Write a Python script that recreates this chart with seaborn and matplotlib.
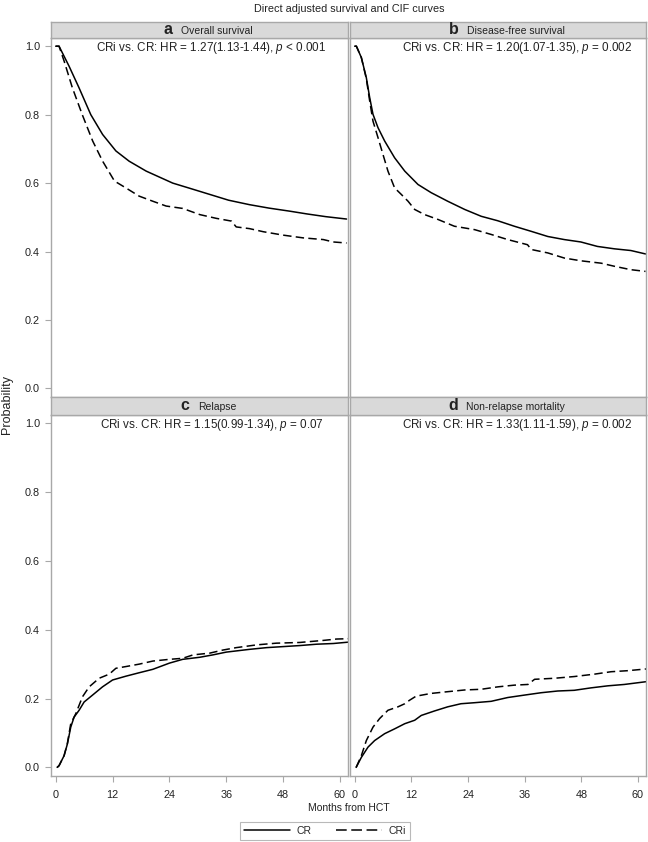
import numpy as np
import pandas as pd
import matplotlib
matplotlib.use("Agg")
import matplotlib.pyplot as plt
import seaborn as sns
from matplotlib.lines import Line2D
from matplotlib.offsetbox import TextArea, HPacker, AnchoredOffsetbox

# ---------------- data ----------------
groups = ["CR", "CRi"]

# a  Overall survival
os_cr_t = [0, 0.7, 2.8, 4.9, 7.4, 9.9, 12.7, 15.5, 19.1, 24.7, 28.5, 32.5, 36.5, 40.9, 45, 49.4, 53, 57, 61.4]
os_cr_p = [1.0, 1.0, 0.942, 0.879, 0.80, 0.742, 0.694, 0.664, 0.635, 0.600, 0.584, 0.567, 0.550, 0.537, 0.527, 0.518, 0.510, 0.502, 0.495]
os_cri_t = [0, 0.7, 1.76, 3.5, 5.6, 7.8, 9.9, 12.4, 14.8, 17.6, 20.5, 23.3, 26.8, 30.4, 33.9, 37.1, 38.1, 40.9, 43.8, 48.0, 52.2, 56.5, 58.6, 61.4]
os_cri_p = [1.0, 1.0, 0.957, 0.879, 0.80, 0.723, 0.664, 0.606, 0.586, 0.562, 0.547, 0.533, 0.526, 0.508, 0.497, 0.489, 0.472, 0.467, 0.458, 0.448, 0.440, 0.435, 0.428, 0.425]

# b  Disease-free survival
dfs_cr_t = [0, 0.35, 1.4, 2.46, 3.17, 3.87, 4.93, 6.34, 8.45, 10.6, 13.4, 16.2, 19.7, 23.3, 26.8, 30.3, 33.8, 37.4, 40.9, 44.4, 47.9, 51.4, 55.0, 58.5, 61.6]
dfs_cr_p = [1.0, 1.0, 0.967, 0.908, 0.85, 0.801, 0.762, 0.723, 0.674, 0.635, 0.596, 0.572, 0.547, 0.523, 0.503, 0.490, 0.474, 0.459, 0.444, 0.435, 0.428, 0.415, 0.408, 0.403, 0.393]
dfs_cri_t = [0, 0.35, 1.4, 2.46, 3.17, 3.87, 4.93, 5.98, 7.04, 8.45, 9.86, 11.3, 12.7, 14.8, 17.6, 21.1, 25.4, 28.9, 32.4, 36.6, 37.4, 40.9, 44.4, 47.9, 52.2, 55.0, 58.5, 61.6]
dfs_cri_p = [1.0, 1.0, 0.967, 0.905, 0.84, 0.781, 0.733, 0.684, 0.635, 0.586, 0.567, 0.547, 0.523, 0.508, 0.494, 0.474, 0.464, 0.450, 0.435, 0.420, 0.406, 0.396, 0.381, 0.373, 0.366, 0.357, 0.347, 0.342]

# c  Relapse
rel_cr_t = [0.3, 0.7, 1.76, 2.46, 3.17, 3.87, 4.93, 5.99, 7.76, 9.87, 12.0, 14.8, 17.6, 20.5, 24.0, 26.8, 30.4, 33.2, 36.0, 40.9, 44.5, 48.0, 51.5, 55.1, 58.6, 61.8]
rel_cr_p = [0.0, 0.005, 0.034, 0.068, 0.117, 0.146, 0.166, 0.190, 0.210, 0.234, 0.254, 0.265, 0.275, 0.285, 0.303, 0.314, 0.320, 0.327, 0.335, 0.343, 0.348, 0.351, 0.354, 0.358, 0.360, 0.364]
rel_cri_t = [0.3, 0.7, 1.76, 2.46, 3.17, 4.23, 5.64, 7.05, 9.16, 11.3, 12.7, 14.8, 17.6, 20.5, 24.0, 26.8, 29.0, 32.5, 35.3, 38.1, 42.4, 46.6, 51.5, 56.5, 59.3, 61.8]
rel_cri_p = [0.0, 0.005, 0.034, 0.070, 0.127, 0.156, 0.205, 0.234, 0.259, 0.271, 0.288, 0.293, 0.300, 0.309, 0.314, 0.317, 0.327, 0.332, 0.341, 0.348, 0.356, 0.361, 0.363, 0.369, 0.373, 0.374]

# d  Non-relapse mortality
nrm_cr_t = [0.3, 1.4, 2.82, 4.22, 6.34, 8.45, 10.6, 12.7, 14.1, 16.9, 19.7, 22.5, 25.4, 28.9, 32.4, 35.9, 39.5, 43.0, 46.5, 50.0, 53.6, 57.1, 61.7]
nrm_cr_p = [0.0, 0.029, 0.059, 0.078, 0.098, 0.112, 0.127, 0.137, 0.151, 0.164, 0.176, 0.185, 0.188, 0.192, 0.203, 0.210, 0.217, 0.222, 0.224, 0.231, 0.237, 0.241, 0.249]
nrm_cri_t = [0.3, 1.4, 2.46, 3.87, 5.28, 7.04, 9.16, 10.6, 11.6, 13.0, 16.2, 19.7, 23.3, 26.8, 30.3, 33.8, 36.7, 38.1, 42.3, 46.5, 50.8, 54.3, 57.8, 61.7]
nrm_cri_p = [0.0, 0.034, 0.078, 0.117, 0.142, 0.166, 0.176, 0.185, 0.195, 0.207, 0.215, 0.220, 0.225, 0.227, 0.234, 0.239, 0.241, 0.256, 0.259, 0.264, 0.271, 0.278, 0.281, 0.286]

panel_letters = ["a", "b", "c", "d"]
panel_titles = ["Overall survival", "Disease-free survival", "Relapse", "Non-relapse mortality"]
panel_notes = [
    r"CRi vs. CR: HR = 1.27(1.13-1.44), $\mathit{p}$ < 0.001",
    r"CRi vs. CR: HR = 1.20(1.07-1.35), $\mathit{p}$ = 0.002",
    r"CRi vs. CR: HR = 1.15(0.99-1.34), $\mathit{p}$ = 0.07",
    r"CRi vs. CR: HR = 1.33(1.11-1.59), $\mathit{p}$ = 0.002",
]
x_ticks = [0, 12, 24, 36, 48, 60]
y_ticks = [0.0, 0.2, 0.4, 0.6, 0.8, 1.0]
y_ticklabels = ["0.0", "0.2", "0.4", "0.6", "0.8", "1.0"]

series = {
    0: {"CR": (os_cr_t, os_cr_p), "CRi": (os_cri_t, os_cri_p)},
    1: {"CR": (dfs_cr_t, dfs_cr_p), "CRi": (dfs_cri_t, dfs_cri_p)},
    2: {"CR": (rel_cr_t, rel_cr_p), "CRi": (rel_cri_t, rel_cri_p)},
    3: {"CR": (nrm_cr_t, nrm_cr_p), "CRi": (nrm_cri_t, nrm_cri_p)},
}
rows = []
for k, d in series.items():
    for g in groups:
        for t, p in zip(*d[g]):
            rows.append({"panel": k, "group": g, "t": t, "p": p})
df = pd.DataFrame(rows)

# ---------------- style ----------------
sns.set_style("white")
plt.rcParams["font.family"] = ["Liberation Sans", "DejaVu Sans"]
plt.rcParams["mathtext.fontset"] = "custom"
plt.rcParams["mathtext.rm"] = "Liberation Sans"
plt.rcParams["mathtext.it"] = "Liberation Sans:italic"

W, H = 648, 842
fig = plt.figure(figsize=(W / 100, H / 100), dpi=100)
fig.patch.set_facecolor("white")


def rect(x0, y0, x1, y1):
    return [x0 / W, 1 - y1 / H, (x1 - x0) / W, (y1 - y0) / H]


SPINE = "#a8a8a8"
TXT = "#222222"
plot_rects = [(51, 38, 348, 397), (350, 38, 646, 397), (51, 415, 348, 776), (350, 415, 646, 776)]
strip_rects = [(51, 22, 348, 38), (350, 22, 646, 38), (51, 397, 348, 415), (350, 397, 646, 415)]
note_x = [0.54, 0.565, 0.54, 0.565]
dash_map = {"CR": "", "CRi": (5.5, 2.8)}

for k in range(4):
    ax = fig.add_axes(rect(*plot_rects[k]))
    sub = df[df["panel"] == k]
    sns.lineplot(data=sub, x="t", y="p", style="group", style_order=groups,
                 dashes=dash_map, color="black", linewidth=1.1,
                 estimator=None, sort=True, legend=False, ax=ax)
    ax.set_xlim(-1.0, 61.7)
    ax.set_ylim(-0.025, 1.024)
    ax.set_xlabel("")
    ax.set_ylabel("")
    for s in ax.spines.values():
        s.set_color(SPINE)
        s.set_linewidth(1.0)
    ax.tick_params(colors=SPINE, labelcolor=TXT, labelsize=7.8, length=4, width=0.8,
                   pad=4, direction="out")
    ax.set_yticks(y_ticks)
    if k in (0, 2):
        ax.set_yticklabels(y_ticklabels)
        ax.tick_params(axis="y", left=True, labelleft=True)
    else:
        ax.tick_params(axis="y", left=False, labelleft=False)
    ax.set_xticks(x_ticks)
    if k in (2, 3):
        ax.set_xticklabels([str(v) for v in x_ticks])
        ax.tick_params(axis="x", bottom=True, labelbottom=True, pad=6)
    else:
        ax.tick_params(axis="x", bottom=False, labelbottom=False)
    ax.text(note_x[k], 0.972, panel_notes[k], transform=ax.transAxes,
            ha="center", va="center", fontsize=8.4, color=TXT)

    # header strip
    sax = fig.add_axes(rect(*strip_rects[k]))
    sax.set_facecolor("#d9d9d9")
    sax.set_xticks([])
    sax.set_yticks([])
    for s in sax.spines.values():
        s.set_color(SPINE)
        s.set_linewidth(1.0)
    box = HPacker(children=[
        TextArea(panel_letters[k], textprops=dict(fontsize=11.5, fontweight="bold", color=TXT)),
        TextArea(panel_titles[k], textprops=dict(fontsize=7.5, color=TXT)),
    ], align="baseline", pad=0, sep=6)
    ab = AnchoredOffsetbox(loc="center", child=box, pad=0, borderpad=0, frameon=False,
                           bbox_to_anchor=(0.53, 0.5), bbox_transform=sax.transAxes)
    sax.add_artist(ab)

fig.text(349 / W, 1 - 9 / H, "Direct adjusted survival and CIF curves",
         ha="center", va="center", fontsize=7.8, color=TXT)
fig.text(349 / W, 1 - 808 / H, "Months from HCT", ha="center", va="center",
         fontsize=7.5, color=TXT)
fig.text(7 / W, 1 - 405 / H, "Probability", ha="center", va="center",
         rotation=90, fontsize=9, color=TXT)

handles = [Line2D([], [], color="black", lw=1.1, linestyle="-"),
           Line2D([], [], color="black", lw=1.1, dashes=(7, 3))]
leg = fig.legend(handles, groups, loc="center", bbox_to_anchor=(325 / W, 1 - 831 / H),
                 ncol=2, frameon=True, fontsize=7.5, handlelength=4.4,
                 columnspacing=2.3, handletextpad=0.7, borderpad=0.35,
                 fancybox=False)
leg.get_frame().set_edgecolor(SPINE)
leg.get_frame().set_linewidth(0.8)

fig.savefig("out.png", dpi=100, facecolor="white")
